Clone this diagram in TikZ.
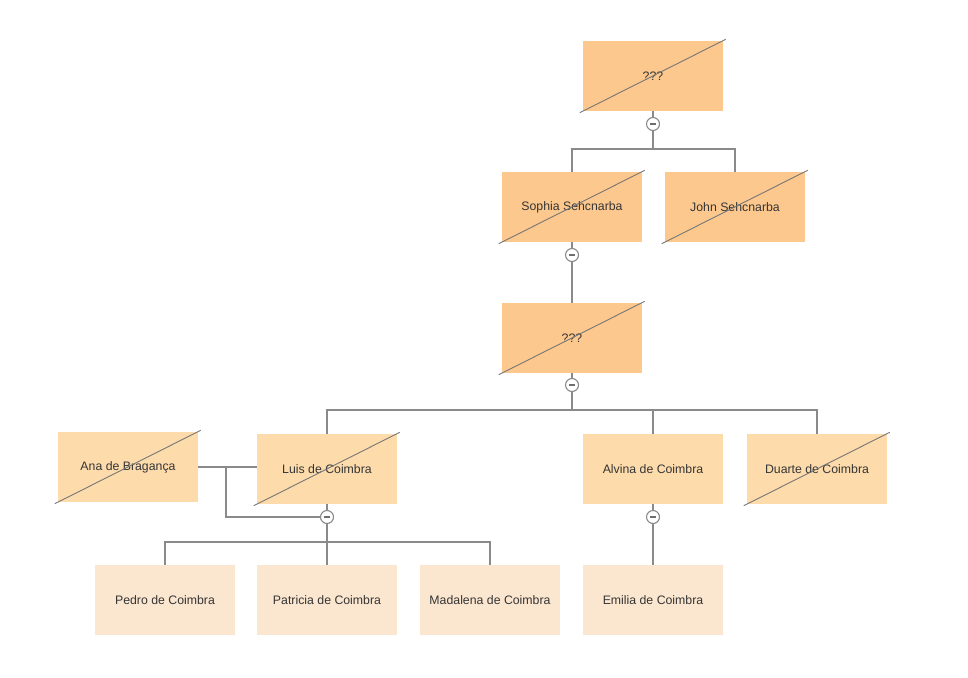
\documentclass[tikz,border=0pt]{standalone}
\usepackage{fontspec}
\setmainfont{Liberation Sans}
\usetikzlibrary{calc}
\definecolor{topc}{HTML}{FDC88D}
\definecolor{midc}{HTML}{FDDBAB}
\definecolor{lowc}{HTML}{FBE6CF}
\definecolor{linec}{HTML}{8A8A8A}
\definecolor{diagc}{HTML}{767676}
\definecolor{txtc}{HTML}{353535}
\tikzset{
  person/.style={minimum width=140pt, minimum height=70pt, inner sep=0pt, draw=none,
    text=txtc, font=\fontsize{12.3}{14}\selectfont},
  p1/.style={person, fill=topc},
  p2/.style={person, fill=midc},
  p3/.style={person, fill=lowc},
  conn/.style={draw=linec, line width=1.3pt},
  diag/.style={draw=diagc, line width=0.9pt},
  toggle/.style={circle, minimum size=13pt, inner sep=0pt, draw=linec, fill=white, line width=1.1pt,
    path picture={\draw[linec!80!black, line width=1.1pt] ([xshift=-3pt]path picture bounding box.center) -- ([xshift=3pt]path picture bounding box.center);}}
}
\newcommand{\crossout}[1]{\draw[diag] ($(#1.south west)+(-3,1.5)$) -- ($(#1.north east)+(2.5,-1.5)$);}
\begin{document}
\begin{tikzpicture}[x=1pt,y=-1pt]
\useasboundingbox (0,0) rectangle (968,677);
% nodes
\node[p1] (top) at (653,76) {???};
\node[p1] (sophia) at (572,207) {Sophia Sehcnarba};
\node[p1] (john) at (735,207) {John Sehcnarba};
\node[p1] (mid) at (572,338) {???};
\node[p2] (ana) at (128,467) {Ana de Bragança};
\node[p2] (luis) at (327,469) {Luis de Coimbra};
\node[p2] (alvina) at (653,469) {Alvina de Coimbra};
\node[p2] (duarte) at (817,469) {Duarte de Coimbra};
\node[p3] (pedro) at (165,600) {Pedro de Coimbra};
\node[p3] (patricia) at (327,600) {Patricia de Coimbra};
\node[p3] (madalena) at (490,600) {Madalena de Coimbra};
\node[p3] (emilia) at (653,600) {Emilia de Coimbra};
% crossing lines
\crossout{top}
\crossout{sophia}
\crossout{john}
\crossout{mid}
\crossout{ana}
\crossout{luis}
\crossout{duarte}
% toggles and junctions
\node[toggle] (c1) at (653,124) {};
\node[toggle] (c2) at (572,255) {};
\node[toggle] (c3) at (572,385) {};
\node[toggle] (c4) at (327,517) {};
\node[toggle] (c5) at (653,517) {};
\coordinate (j1) at (653,149);
\coordinate (j2) at (572,410);
\coordinate (j3) at (327,542);
\coordinate (m) at (226,467);
% connectors
\draw[conn] (top.south) -- (c1);
\draw[conn] (c1) -- (j1);
\draw[conn] (sophia.north) |- (j1) -| (john.north);
\draw[conn] (sophia.south) -- (c2);
\draw[conn] (c2) -- (mid.north);
\draw[conn] (mid.south) -- (c3);
\draw[conn] (c3) -- (j2);
\draw[conn] (luis.north) |- (j2) -| (duarte.north);
\draw[conn] (alvina.north) -- (alvina.north |- j2);
\draw[conn] (ana.east) -- (ana.east -| luis.west);
\draw[conn] (m) |- (c4);
\draw[conn] (luis.south) -- (c4);
\draw[conn] (c4) -- (j3);
\draw[conn] (pedro.north) |- (j3) -| (madalena.north);
\draw[conn] (patricia.north) -- (j3);
\draw[conn] (alvina.south) -- (c5);
\draw[conn] (c5) -- (emilia.north);
\end{tikzpicture}
\end{document}
